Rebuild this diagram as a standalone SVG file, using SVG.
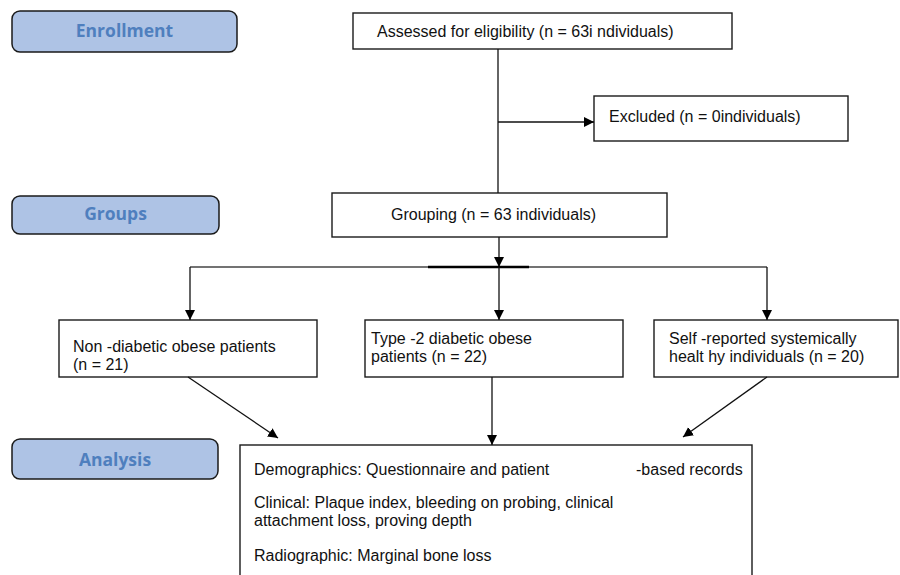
<svg xmlns="http://www.w3.org/2000/svg" width="900" height="575" viewBox="0 0 900 575">
<defs>
<marker id="arr" markerUnits="userSpaceOnUse" markerWidth="11" markerHeight="11" refX="10" refY="5" orient="auto">
<path d="M0,0 L10,5 L0,10 z" fill="#000"/>
</marker>
<style>
.lab rect{fill:#aec3e5;stroke:#1a1a1a;stroke-width:1.5}
.lab text{font-family:"Open Sans","Noto Sans",sans-serif;font-weight:700;font-size:17.5px;fill:#4f7fbe;text-anchor:middle}
.box rect{fill:#fff;stroke:#1a1a1a;stroke-width:1.4}
.box text{font-family:"Liberation Sans",Arial,sans-serif;font-size:16px;fill:#111}
.con line,.con path{stroke:#111;stroke-width:1.3;fill:none}
</style>
</defs>
<rect width="900" height="575" fill="#fff"/>
<g id="label-enrollment" class="lab"><rect x="12" y="11" width="225" height="41" rx="8"/><text x="124.5" y="37">Enrollment</text></g>
<g id="label-groups" class="lab"><rect x="12" y="196" width="207" height="38" rx="8"/><text x="115.5" y="220">Groups</text></g>
<g id="label-analysis" class="lab"><rect x="12" y="439" width="206" height="40" rx="8"/><text x="115" y="466">Analysis</text></g>
<g id="assessed" class="box"><rect x="353" y="13" width="379" height="36"/><text x="377" y="37">Assessed for eligibility (n = 63i ndividuals)</text></g>
<g id="excluded" class="box"><rect x="594" y="96" width="254" height="45"/><text x="609" y="122">Excluded (n = 0individuals)</text></g>
<g id="grouping" class="box"><rect x="332" y="193" width="335" height="44"/><text x="391" y="220">Grouping (n = 63 individuals)</text></g>
<g id="nondiabetic" class="box"><rect x="59" y="320" width="258" height="57"/><text x="73" y="352">Non -diabetic obese patients</text><text x="73" y="370">(n = 21)</text></g>
<g id="type2" class="box"><rect x="365" y="320" width="258" height="57"/><text x="371" y="344">Type -2 diabetic obese</text><text x="371" y="362">patients (n = 22)</text></g>
<g id="healthy" class="box"><rect x="654" y="320" width="244" height="57"/><text x="669" y="344">Self -reported systemically</text><text x="669" y="362">healt hy individuals (n = 20)</text></g>
<g id="analysis" class="box"><rect x="240" y="445" width="512" height="140"/>
<text x="254" y="475">Demographics: Questionnaire and patient</text><text x="636" y="475">-based records</text>
<text x="254" y="508">Clinical: Plaque index, bleeding on probing, clinical</text>
<text x="254" y="526">attachment loss, proving depth</text>
<text x="254" y="561">Radiographic: Marginal bone loss</text></g>
<g id="connectors" class="con">
<line x1="498" y1="49" x2="498" y2="193"/>
<line x1="498" y1="122" x2="594" y2="122" marker-end="url(#arr)"/>
<line x1="499" y1="237" x2="499" y2="267" marker-end="url(#arr)"/>
<line x1="190" y1="267" x2="767" y2="267" style="stroke:#444;stroke-width:1.5"/>
<line x1="428" y1="267" x2="529" y2="267" style="stroke:#000;stroke-width:2.6"/>
<line x1="190" y1="267" x2="190" y2="320" marker-end="url(#arr)"/>
<line x1="499" y1="267" x2="499" y2="320" marker-end="url(#arr)"/>
<line x1="767" y1="267" x2="767" y2="320" marker-end="url(#arr)"/>
<line x1="188" y1="377" x2="278" y2="438" marker-end="url(#arr)"/>
<line x1="492" y1="377" x2="492" y2="445" marker-end="url(#arr)"/>
<line x1="767" y1="377" x2="683" y2="437" marker-end="url(#arr)"/>
</g>
</svg>
